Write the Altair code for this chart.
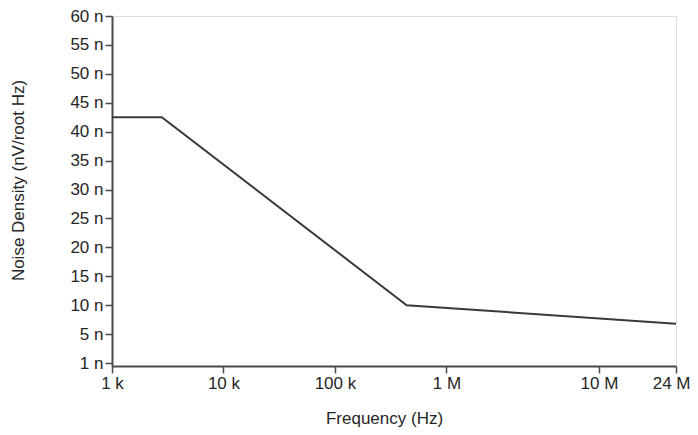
import altair as alt
import pandas as pd

# Data (frequency in Hz, noise density in nV/root Hz)
freq_hz = [1000, 2800, 440000, 24000000]
noise_nv = [42.5, 42.5, 10.0, 6.8]

x_tick_values = [1e3, 1e4, 1e5, 1e6, 1e7, 2.4e7]
x_tick_labels = ["1 k", "10 k", "100 k", "1 M", "10 M", "24 M"]
y_tick_values = [0, 5, 10, 15, 20, 25, 30, 35, 40, 45, 50, 55, 60]
y_tick_labels = ["1 n", "5 n", "10 n", "15 n", "20 n", "25 n", "30 n",
                 "35 n", "40 n", "45 n", "50 n", "55 n", "60 n"]

df = pd.DataFrame({"freq": freq_hz, "noise": noise_nv})


def label_expr(values, labels):
    expr = "''"
    for v, l in reversed(list(zip(values, labels))):
        expr = f"(abs(datum.value - {v}) < {max(abs(v) * 1e-6, 1e-6)} ? '{l}' : {expr})"
    return expr


W, H = 564, 350
FONT = "Liberation Sans"
AX = "#4a4a4a"
TXT = "#262626"
FS = 17
last_x = x_tick_values[-1]

x_axis = alt.Axis(
    values=x_tick_values,
    labelExpr=label_expr(x_tick_values, x_tick_labels),
    grid=False,
    domainColor=AX, domainWidth=2,
    tickColor=AX, tickWidth=1.5, tickSize=7,
    labelFont=FONT, labelFontSize=FS, labelColor=TXT, labelPadding=2,
    labelFlush=False, labelOverlap=False,
    labelAlign=alt.condition(f"datum.value >= {last_x * 0.999}", alt.value("right"), alt.value("center")),
    labelOffset=alt.condition(f"datum.value >= {last_x * 0.999}", alt.value(14), alt.value(0)),
    title="Frequency (Hz)",
    titleFont=FONT, titleFontSize=FS, titleFontWeight="normal", titleColor=TXT,
    titleX=272, titleY=57, titleBaseline="alphabetic", titleAlign="center",
)

y_axis = alt.Axis(
    values=y_tick_values,
    labelExpr=label_expr(y_tick_values, y_tick_labels),
    grid=False,
    domainColor=AX, domainWidth=2,
    tickColor=AX, tickWidth=1.5, tickSize=7,
    labelFont=FONT, labelFontSize=FS, labelColor=TXT, labelPadding=2,
    labelFlush=False, labelOverlap=False,
    title="Noise Density (nV/root Hz)",
    titleFont=FONT, titleFontSize=FS, titleFontWeight="normal", titleColor=TXT,
    titleAngle=-90, titleX=-94, titleY=164, titleBaseline="middle", titleAlign="center",
)

chart = alt.Chart(df).mark_line(color="#3a3a3a", strokeWidth=2).encode(
    x=alt.X("freq:Q",
            scale=alt.Scale(type="log", domain=[1e3, 1e6, 1e7, 2.4e7],
                            range=[0, 334.4, 487, W], nice=False, clamp=False),
            axis=x_axis),
    y=alt.Y("noise:Q", scale=alt.Scale(domain=[-0.5, 60], nice=False, zero=False),
            axis=y_axis),
).properties(
    width=W, height=H,
    autosize=alt.AutoSizeParams(type="none"),
    padding={"left": 104, "top": 8, "right": 14, "bottom": 61},
).configure_view(
    stroke=AX, strokeWidth=2
).configure(background="white")

chart.save("out.html", embed_options={"renderer": "svg", "actions": False})
